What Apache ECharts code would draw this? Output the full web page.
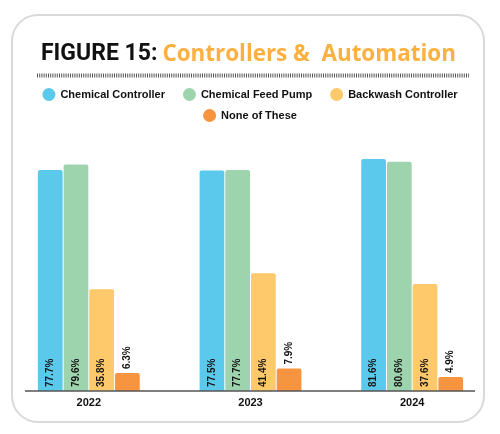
<!DOCTYPE html>
<html><head><meta charset="utf-8">
<script src="https://cdn.jsdelivr.net/npm/echarts@6/dist/echarts.min.js"></script>
<style>html,body{margin:0;padding:0;background:#fff}#c{width:500px;height:434px}</style>
</head><body><div id="c"></div>
<script>
var years = ['2022', '2023', '2024'];
var seriesNames = ['Chemical Controller', 'Chemical Feed Pump', 'Backwash Controller', 'None of These'];
var chemicalController = [77.7, 77.5, 81.6];
var chemicalFeedPump = [79.6, 77.7, 80.6];
var backwashController = [35.8, 41.4, 37.6];
var noneOfThese = [6.3, 7.9, 4.9];
var colors = ['#5BC9EC', '#9DD4AE', '#FDC96A', '#F7943F'];
var allData = [chemicalController, chemicalFeedPump, backwashController, noneOfThese];

var chart = echarts.init(document.getElementById('c'), null, {renderer: 'canvas'});
var series = allData.map(function (d, i) {
  var outside = i === 3;
  return {
    name: seriesNames[i], type: 'bar', data: d, barGap: '4%',
    barCategoryGap: '37%',
    itemStyle: {color: colors[i], borderRadius: [2, 2, 0, 0]},
    label: {
      show: true, rotate: 90, position: outside ? 'top' : 'insideBottom',
      align: 'left', verticalAlign: 'middle', distance: 4,
      formatter: function (p) { return p.value.toFixed(1) + '%'; },
      color: '#111', fontWeight: 'bold', fontSize: 10, fontFamily: 'Liberation Sans'
    }
  };
});
var legendText = {fontFamily: 'Liberation Sans', fontWeight: 'bold', fontSize: 11, color: '#111'};
chart.setOption({
  animation: false,
  title: {
    text: '{a|FIGURE 15:} {b|Controllers &  Automation}',
    left: 36, top: 38,
    textStyle: {rich: {
      a: {fontFamily: 'Roboto', fontWeight: 'bold', fontSize: 23, color: '#111'},
      b: {fontFamily: 'Open Sans', fontWeight: 'bold', fontSize: 22.4, color: '#FBB040'}
    }}
  },
  legend: [
    {top: 83, left: 'center', itemGap: 18, itemWidth: 13, itemHeight: 13,
     icon: 'circle', data: seriesNames.slice(0, 3), textStyle: legendText},
    {top: 104, left: 'center', itemGap: 18, itemWidth: 13, itemHeight: 13,
     icon: 'circle', data: seriesNames.slice(3), textStyle: legendText}
  ],
  grid: {left: 8, right: 7, top: 106.6, bottom: 43},
  xAxis: {
    type: 'category', data: years,
    axisLine: {show: false}, axisTick: {show: false},
    axisLabel: {color: '#111', fontWeight: 'bold', fontSize: 11, fontFamily: 'Liberation Sans', margin: 6}
  },
  yAxis: {type: 'value', min: 0, max: 100, show: false},
  series: series,
  graphic: [
    {type: 'rect', shape: {x: 12, y: 15, width: 472, height: 407, r: 26},
     style: {fill: 'none', stroke: '#d9d9d9', lineWidth: 2}, z: -1},
    {type: 'line', shape: {x1: 37, y1: 75.5, x2: 469, y2: 75.5},
     style: {stroke: '#555', lineWidth: 4, lineDash: [1, 1.2]}},
    {type: 'line', shape: {x1: 25, y1: 391, x2: 475, y2: 391},
     style: {stroke: '#555', lineWidth: 1.5}, z: 10}
  ]
});
</script></body></html>
